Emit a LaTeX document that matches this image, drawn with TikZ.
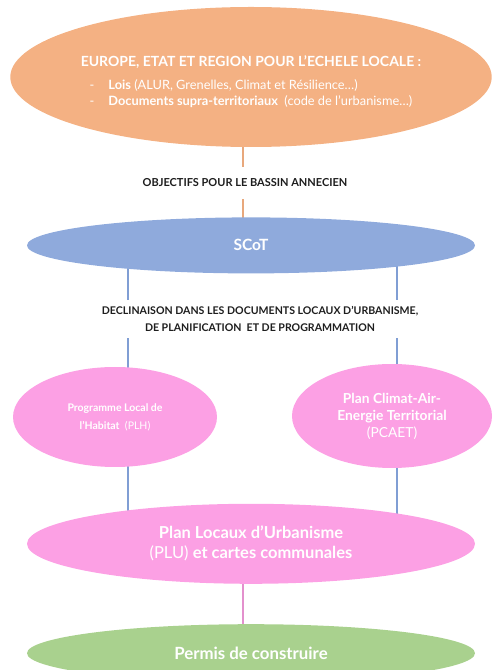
\documentclass[tikz,border=0pt]{standalone}
\usepackage{fontspec}
\setmainfont{Lato}
\usepackage{xcolor}
\usepackage{tikz}
\usetikzlibrary{shapes.geometric, positioning, backgrounds}
\definecolor{niveauOrange}{RGB}{244, 177, 131}
\definecolor{niveauBlue}{RGB}{143, 170, 220}
\definecolor{niveauPink}{RGB}{252, 160, 228}
\definecolor{niveauGreen}{RGB}{169, 209, 142}
\definecolor{lineBlue}{RGB}{128, 158, 212}
\definecolor{labelInk}{RGB}{30, 30, 30}

\begin{document}
\begin{tikzpicture}[
            x=1pt, y=1pt,
            node distance=40pt,
            % Ellipse styles for each level
            level/.style={
                ellipse,
                inner sep=0pt,
                text=white,
                align=center
            },
            europebox/.style={level, fill=niveauOrange, minimum width=472pt, minimum height=140pt, font=\fontsize{12.8}{16}\selectfont},
            scotbox/.style={level, fill=niveauBlue, minimum width=448pt, minimum height=56pt, font=\fontsize{15.5}{17}\selectfont\bfseries},
            docbox/.style={level, fill=niveauPink},
            plubox/.style={level, fill=niveauPink, minimum width=448pt, minimum height=80pt, font=\fontsize{16.5}{20}\selectfont},
            permisbox/.style={level, fill=niveauGreen, minimum width=448pt, minimum height=58pt, font=\fontsize{16.8}{18}\selectfont\bfseries},
            % Labels sitting on the connectors
            steplabel/.style={
                fill=white,
                inner xsep=2pt,
                text=labelInk,
                align=center,
                font=\bfseries
            },
            link/.style={line width=1.3pt}
        ]

        \useasboundingbox (0,0) rectangle (495,670);
        \clip (0,0) rectangle (495,670);

        % --- Columns of the connectors ---
        \coordinate (colM) at (243,0);
        \coordinate (colL) at (128,0);
        \coordinate (colR) at (397,0);

        % --- Nodes ---
        \node [europebox] (europe) at (251,593) {%
            {\fontsize{14}{14}\selectfont\bfseries\rule{0pt}{22pt}EUROPE, ETAT ET REGION POUR L’ECHELE LOCALE :}\\[9pt]
            \begin{tabular}{@{}l@{\hspace{14pt}}l@{}}
                - & \textbf{Lois} (ALUR, Grenelles, Climat et Résilience…)\\
                - & \textbf{Documents supra-territoriaux}\ \ (code de l’urbanisme…)
            \end{tabular}};
        \node [scotbox, below=70pt of europe] (scot) {SCoT};
        \node [steplabel, minimum height=32pt, font=\fontsize{11}{13}\selectfont\bfseries] (objectifs) at (245,487)
            {OBJECTIFS POUR LE BASSIN ANNECIEN};
        \node [steplabel, minimum height=38pt, font=\fontsize{10.6}{17}\selectfont\bfseries] (declinaison) at (260,351)
            {DECLINAISON DANS LES DOCUMENTS LOCAUX D’URBANISME,\\DE PLANIFICATION\ \ ET DE PROGRAMMATION};
        \node [docbox, minimum width=204pt, minimum height=100pt, font=\fontsize{10.5}{18}\selectfont] (plh) at (115,253)
            {\textbf{Programme Local de}\\\textbf{l’Habitat}\ \ (PLH)};
        \node [docbox, minimum width=200pt, minimum height=104pt, font=\fontsize{13.8}{17}\selectfont] (pcaet) at (392,254)
            {\textbf{Plan Climat-Air-}\\\textbf{Energie Territorial}\\(PCAET)};
        \node [plubox, below=230pt of scot] (plu)
            {\textbf{Plan Locaux d’Urbanisme}\\(PLU) \textbf{et cartes communales}};
        \node [permisbox, below=of plu] (permis) {Permis de construire};

        % --- Edges ---
        \begin{pgfonlayer}{background}
            \draw [link, niveauOrange!95!black] (europe.center -| colM) -- (scot.center -| colM);
            \draw [link, lineBlue] (scot.center -| colL) -- (plh.center -| colL);
            \draw [link, lineBlue] (scot.center -| colR) -- (pcaet.center -| colR);
            \draw [link, lineBlue] (plh.center -| colL) -- (plu.center -| colL);
            \draw [link, lineBlue] (pcaet.center -| colR) -- (plu.center -| colR);
            \draw [link, niveauPink!90!black] (plu.center -| colM) -- (permis.center -| colM);
        \end{pgfonlayer}

        \end{tikzpicture}
\end{document}
